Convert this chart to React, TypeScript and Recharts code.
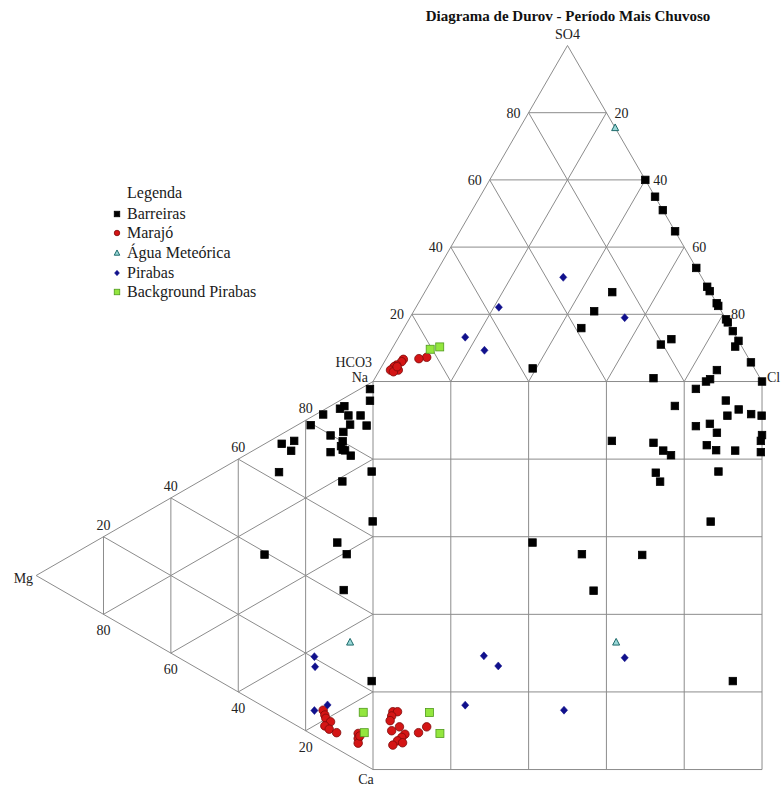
import React from 'react';
import { ScatterChart, Scatter, XAxis, YAxis, ReferenceLine, ReferenceDot, Legend } from 'recharts';

const SERIF = '"Liberation Serif", "Times New Roman", Times, serif';
const GRID = '#8c8c8c';
const TRI_H = 86.603; // height of an equilateral triangle with side 100

const TICKS = [20, 40, 60, 80];

// Anion triangle readings: [Cl %, SO4 %]  (HCO3 is the rest)
// Cation triangle readings: [Na %, Mg %]  (Ca is the rest)
// Central square readings: [x %, y %]
const barreirasAnions = [
  [40, 60], [45, 55], [49, 51], [55.3, 44.7], [66.2, 33.8], [71.8, 28.2], [73.1, 26.9],
  [76.7, 23.3], [77.5, 22.5], [81.5, 18.5], [82.4, 17.6], [85, 15], [87.9, 12.1], [87.9, 10.4],
  [94.3, 5.7], [100, 0], [48.2, 26.6], [46.4, 20.9], [45.6, 15.9], [70.4, 12.6], [68.5, 11],
  [86.7, 3.4], [86.3, 0.7], [85.6, 0], [71.6, 1], [39.1, 3.9],
];
const barreirasCations = [
  [97.6, 0.9], [94.6, 0.9], [84.1, 14.8], [88.1, 9.8], [89.4, 8.5], [87.6, 7.3], [89.4, 3.7],
  [85.5, 6.8], [87.7, 1.9], [79.5, 18.5], [82.6, 8.8], [79.8, 12.6], [80.1, 9.0], [78.6, 9.5],
  [77.9, 9.0], [78.1, 8.3], [77.6, 6.6], [75.5, 12.6], [70.4, 27.1], [73.0, 23.4], [70.0, 24.3],
  [62.7, 27.9], [76.6, 0.4], [69.7, 9.1], [63.9, 0.1], [53.2, 10.6], [51.6, 7.8], [39.3, 32.2],
  [41.9, 8.7], [22.6, 0.4],
];
const barreirasSquare = [
  [83.0, 98.1], [77.6, 93.7], [90.7, 95.1], [94.0, 92.8], [91.1, 91.2], [97.2, 91.6], [99.9, 91.2],
  [83.0, 88.5], [86.6, 89.1], [88.4, 86.8], [100, 86.2], [99.7, 84.7], [61.4, 84.7], [72.1, 84.2],
  [74.6, 82.2], [76.6, 81.0], [85.8, 83.6], [88.2, 82.3], [93.1, 82.2], [99.7, 81.8], [88.8, 76.8],
  [72.7, 76.5], [73.8, 74.2], [86.8, 63.9], [41.0, 58.5], [53.7, 55.5], [69.2, 55.3], [56.7, 46.1],
  [92.5, 22.8],
];

const marajoAnions = [
  [10.2, 7.2], [8.4, 6.8], [4.5, 6.6], [4.4, 5.9], [3.6, 4.9], [3.2, 4.4], [2.8, 3.4],
  [4.8, 3.4], [3.8, 2.9], [4.0, 4.4],
];
const marajoCations = [
  [7.9, 14.8], [6.9, 14.3], [6.2, 14.0], [6.0, 12.6], [4.1, 14.3], [3.9, 13.0], [4.1, 10.8],
  [7.1, 4.4], [5.8, 4.4], [4.6, 4.4], [6.7, 3.9],
];
const marajoSquare = [
  [5.1, 14.9], [6.3, 14.9], [4.8, 13.8], [4.4, 12.6], [6.8, 11.0], [4.8, 10.0], [8.2, 9.1],
  [7.4, 8.3], [6.3, 7.4], [7.6, 6.9], [5.1, 6.3], [11.7, 9.5], [13.8, 11.0],
];

const meteoricaAnions = [[24.5, 75.5]];
const meteoricaCations = [[29.4, 6.8]];
const meteoricaSquare = [[62.5, 32.8]];

const pirabasAnions = [[33.4, 31], [21.3, 22.1], [55.2, 19], [17.1, 13.2], [24, 9.3]];
const pirabasCations = [[20.4, 17.4], [17.9, 17.2], [9.9, 13.5], [6.5, 17.4]];
const pirabasSquare = [[28.5, 29.3], [32.2, 26.7], [64.7, 28.8], [23.7, 16.6], [49.1, 15.3]];

const backgroundAnions = [[9.9, 9.6], [12, 10.3]];
const backgroundCations = [[13.3, 2.9], [8.2, 2.6]];
const backgroundSquare = [[14.5, 14.7], [17.2, 9.3]];

// ternary -> plot coordinates
type Pt = { x: number; y: number };
const anionPt = (cl: number, so4: number): Pt => ({ x: cl + so4 / 2, y: 100 + (so4 * TRI_H) / 100 });
const cationPt = (na: number, mg: number): Pt => ({ x: -(mg * TRI_H) / 100, y: na + mg / 2 });
const squarePt = (sx: number, sy: number): Pt => ({ x: sx, y: sy });

const buildPoints = (anions: number[][], cations: number[][], square: number[][]) => [
  ...anions.map(([a, b]) => anionPt(a, b)),
  ...cations.map(([a, b]) => cationPt(a, b)),
  ...square.map(([a, b]) => squarePt(a, b)),
];

type MarkerKind = 'square' | 'circle' | 'triangle' | 'diamond';
interface MarkerStyle { kind: MarkerKind; fill: string; stroke: string; size: number }

const STYLES: Record<string, MarkerStyle> = {
  Barreiras: { kind: 'square', fill: '#000000', stroke: '#000000', size: 7.5 },
  'Marajó': { kind: 'circle', fill: '#d41515', stroke: '#7d0a0a', size: 8.5 },
  'Água Meteórica': { kind: 'triangle', fill: '#9ad8d8', stroke: '#1d6a6a', size: 7 },
  Pirabas: { kind: 'diamond', fill: '#10108c', stroke: '#10108c', size: 8 },
  'Background Pirabas': { kind: 'square', fill: '#93e63e', stroke: '#4f9a1c', size: 8 },
};

const SERIES = [
  { name: 'Barreiras', points: buildPoints(barreirasAnions, barreirasCations, barreirasSquare) },
  { name: 'Marajó', points: buildPoints(marajoAnions, marajoCations, marajoSquare) },
  { name: 'Água Meteórica', points: buildPoints(meteoricaAnions, meteoricaCations, meteoricaSquare) },
  { name: 'Pirabas', points: buildPoints(pirabasAnions, pirabasCations, pirabasSquare) },
  { name: 'Background Pirabas', points: buildPoints(backgroundAnions, backgroundCations, backgroundSquare) },
];

const drawMarker = (st: MarkerStyle, cx: number, cy: number, size = st.size) => {
  const h = size / 2;
  switch (st.kind) {
    case 'circle':
      return <circle cx={cx} cy={cy} r={h} fill={st.fill} stroke={st.stroke} strokeWidth={0.8} />;
    case 'triangle':
      return (
        <polygon
          points={`${cx},${cy - size * 0.55} ${cx - h},${cy + size * 0.4} ${cx + h},${cy + size * 0.4}`}
          fill={st.fill}
          stroke={st.stroke}
          strokeWidth={1}
        />
      );
    case 'diamond':
      return (
        <polygon
          points={`${cx},${cy - h} ${cx + h * 0.9},${cy} ${cx},${cy + h} ${cx - h * 0.9},${cy}`}
          fill={st.fill}
          stroke={st.stroke}
          strokeWidth={0.5}
        />
      );
    default:
      return <rect x={cx - h} y={cy - h} width={size} height={size} fill={st.fill} stroke={st.stroke} strokeWidth={0.8} />;
  }
};

// grid: both triangles and the square, 20 % steps
const segments: [Pt, Pt][] = [];
segments.push([anionPt(0, 0), anionPt(100, 0)], [anionPt(100, 0), anionPt(0, 100)], [anionPt(0, 100), anionPt(0, 0)]);
segments.push([cationPt(100, 0), cationPt(0, 0)], [cationPt(0, 0), cationPt(0, 100)], [cationPt(0, 100), cationPt(100, 0)]);
TICKS.forEach((t) => {
  segments.push([anionPt(0, t), anionPt(100 - t, t)]);
  segments.push([anionPt(t, 0), anionPt(t, 100 - t)]);
  segments.push([anionPt(100 - t, 0), anionPt(0, 100 - t)]);
  segments.push([cationPt(0, t), cationPt(100 - t, t)]);
  segments.push([cationPt(t, 0), cationPt(t, 100 - t)]);
  segments.push([cationPt(100 - t, 0), cationPt(0, 100 - t)]);
});
[0, 20, 40, 60, 80, 100].forEach((v) => {
  if (v > 0) segments.push([squarePt(v, 0), squarePt(v, 100)]);
  if (v < 100) segments.push([squarePt(0, v), squarePt(100, v)]);
});

interface TextLabel { at: Pt; text: string; dx: number; dy: number; anchor: 'start' | 'middle' | 'end' }
const LABELS: TextLabel[] = [
  { at: anionPt(0, 100), text: 'SO4', dx: 0, dy: -6, anchor: 'middle' },
  { at: anionPt(0, 0), text: 'HCO3', dx: -1, dy: -15, anchor: 'end' },
  { at: cationPt(100, 0), text: 'Na', dx: -5, dy: 0, anchor: 'end' },
  { at: anionPt(100, 0), text: 'Cl', dx: 5, dy: 0, anchor: 'start' },
  { at: cationPt(0, 0), text: 'Ca', dx: -7, dy: 14, anchor: 'middle' },
  { at: cationPt(0, 100), text: 'Mg', dx: -3, dy: 7, anchor: 'end' },
  ...TICKS.map((t) => ({ at: anionPt(0, t), text: String(t), dx: -8, dy: 5, anchor: 'end' as const })),
  ...TICKS.map((t) => ({ at: anionPt(t, 100 - t), text: String(t), dx: 8, dy: 5, anchor: 'start' as const })),
  ...TICKS.map((t) => ({ at: cationPt(t, 100 - t), text: String(t), dx: 0, dy: -7, anchor: 'middle' as const })),
  ...TICKS.map((t) => ({ at: cationPt(0, t), text: String(t), dx: 0, dy: 21, anchor: 'middle' as const })),
];

const renderLegend = (props: any) => {
  const names: string[] = (props.payload || []).map((e: any) => e.value);
  const ordered = SERIES.map((s) => s.name).filter((n) => names.includes(n));
  return (
    <div style={{ fontFamily: SERIF, fontSize: 16, color: '#1a1a1a' }}>
      <div style={{ paddingLeft: 17, height: 22, lineHeight: '22px', fontFamily: SERIF }}>Legenda</div>
      {ordered.map((name) => (
        <div key={name} style={{ display: 'flex', alignItems: 'center', height: 19.6, whiteSpace: 'nowrap' }}>
          <svg width={17} height={12} style={{ flexShrink: 0 }}>
            {drawMarker(STYLES[name], 7, 6, 5.5)}
          </svg>
          <span style={{ fontFamily: SERIF }}>{name}</span>
        </div>
      ))}
    </div>
  );
};

export default function App() {
  return (
    <div style={{ position: 'absolute', left: 0, top: 0, width: 781, height: 787, background: '#fff', fontFamily: SERIF }}>
      <div
        style={{
          position: 'absolute',
          left: 398,
          top: 8,
          width: 340,
          textAlign: 'center',
          fontFamily: SERIF,
          fontWeight: 'bold',
          fontSize: 15,
          lineHeight: '17px',
          color: '#111',
          zIndex: 1,
        }}
      >
        Diagrama de Durov - Período Mais Chuvoso
      </div>
      <ScatterChart width={781} height={787} margin={{ top: 32.3, right: 11.2, bottom: 9.7, left: 22.9 }}>
        <XAxis type="number" dataKey="x" domain={[-90, 102]} hide />
        <YAxis type="number" dataKey="y" domain={[-2, 190]} hide />
        {segments.map(([a, b], i) => (
          <ReferenceLine key={`g-${i}`} segment={[a, b]} stroke={GRID} strokeWidth={1} ifOverflow="visible" />
        ))}
        {LABELS.map((l, i) => (
          <ReferenceDot
            key={`l-${i}`}
            x={l.at.x}
            y={l.at.y}
            r={0}
            ifOverflow="visible"
            shape={(p: any) => (
              <text
                x={p.cx + l.dx}
                y={p.cy + l.dy}
                textAnchor={l.anchor}
                fontFamily={SERIF}
                fontSize={14}
                fill="#222"
              >
                {l.text}
              </text>
            )}
          />
        ))}
        {SERIES.map((s) => (
          <Scatter
            key={s.name}
            name={s.name}
            data={s.points}
            fill={STYLES[s.name].fill}
            isAnimationActive={false}
            shape={(p: any) => drawMarker(STYLES[s.name], p.cx, p.cy)}
          />
        ))}
        <Legend
          layout="vertical"
          align="center"
          verticalAlign="middle"
          content={renderLegend}
          wrapperStyle={{ left: 110, top: 182, width: 200, height: 'auto', fontFamily: SERIF }}
        />
      </ScatterChart>
    </div>
  );
}
